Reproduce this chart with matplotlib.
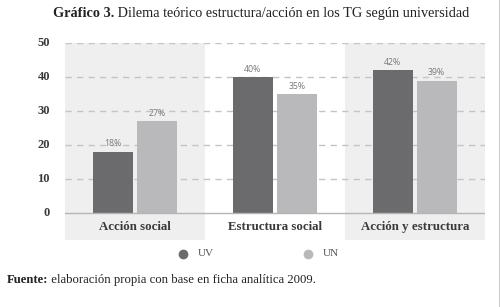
import matplotlib
matplotlib.use("Agg")
import matplotlib.pyplot as plt
from matplotlib.lines import Line2D
import numpy as np

categories = ["Acción social", "Estructura social", "Acción y estructura"]
uv = [18, 40, 42]
un = [27, 35, 39]
series_names = ["UV", "UN"]
yticks = [0, 10, 20, 30, 40, 50]

C_UV = "#6b6b6d"
C_UN = "#b9b9bc"
C_BAND = "#efefef"
C_GRID = "#c4c4c4"
SERIF = "Liberation Serif"

W, H = 500, 307
fig = plt.figure(figsize=(W/100, H/100), dpi=100)
fig.patch.set_facecolor("white")

ax = fig.add_axes([65/W, 1-240/H, 420/W, (240-43.3)/H])
ax.set_xlim(-0.5, 2.5)
ax.set_ylim(-8.06, 50)
ax.axis("off")

x = np.arange(len(categories))
# background bands
for i in [0, 2]:
    ax.axvspan(i-0.5, i+0.5, ymin=0, ymax=1, color=C_BAND, zorder=0, lw=0)
# grid
for t in yticks[1:]:
    ax.plot([-0.5, 2.5], [t, t], color=C_GRID, lw=1.0, ls=(0, (4.5, 3.8)), zorder=1)
ax.plot([-0.5, 2.5], [0, 0], color="#b5b5b5", lw=1.0, zorder=3)

bw = 0.285
b1 = ax.bar(x-0.158, uv, bw, color=C_UV, zorder=2, lw=0)
b2 = ax.bar(x+0.155, un, bw, color=C_UN, zorder=2, lw=0)
for bars, vals in [(b1, uv), (b2, un)]:
    for r, v in zip(bars, vals):
        ax.text(r.get_x()+r.get_width()/2, v+1.0, f"{v}%", ha="center", va="bottom",
                fontsize=6.3, color="#7a7a7a", family="Open Sans")

for i, c in enumerate(categories):
    ax.text(i, -4.3, c, ha="center", va="center", fontsize=9.3, fontweight="bold",
            family=SERIF, color="#3a3a3a")

for t in yticks:
    ax.text(-0.5 - 15/140, t, str(t), ha="right", va="center", fontsize=9,
            fontweight="bold", family=SERIF, color="#3a3a3a")

# legend
for xp, col, name in [(183, C_UV, "UV"), (308, C_UN, "UN")]:
    fig.add_artist(Line2D([xp/W], [1-254/H], marker="o", ms=6, color=col, lw=0))
    fig.text((xp+15)/W, 1-254/H, name, ha="left", va="center", fontsize=8,
             family=SERIF, color="#555555")

# title and source with mixed weights
fig.canvas.draw()
r = fig.canvas.get_renderer()
t1 = fig.text(0, 1-17/H, "Gráfico 3.", fontsize=10.3, fontweight="bold", family=SERIF,
              va="baseline", color="#222222")
t2 = fig.text(0, 1-17/H, " Dilema teórico estructura/acción en los TG según universidad",
              fontsize=10.3, family=SERIF, va="baseline", color="#222222")
w1 = t1.get_window_extent(r).width
w2 = t2.get_window_extent(r).width
x0 = 261.5 - (w1+w2)/2
t1.set_x(x0/W)
t2.set_x((x0+w1)/W)

s1 = fig.text(7/W, 1-283/H, "Fuente:", fontsize=9.2, fontweight="bold", family=SERIF,
              va="baseline", color="#222222")
ws = s1.get_window_extent(r).width
fig.text((7+ws)/W, 1-283/H, " elaboración propia con base en ficha analítica 2009.",
         fontsize=9.2, family=SERIF, va="baseline", color="#222222")

fig.add_artist(Line2D([498.5/W, 498.5/W], [0, 1], color="#cccccc", lw=0.8))

fig.savefig("out.png", dpi=100)
